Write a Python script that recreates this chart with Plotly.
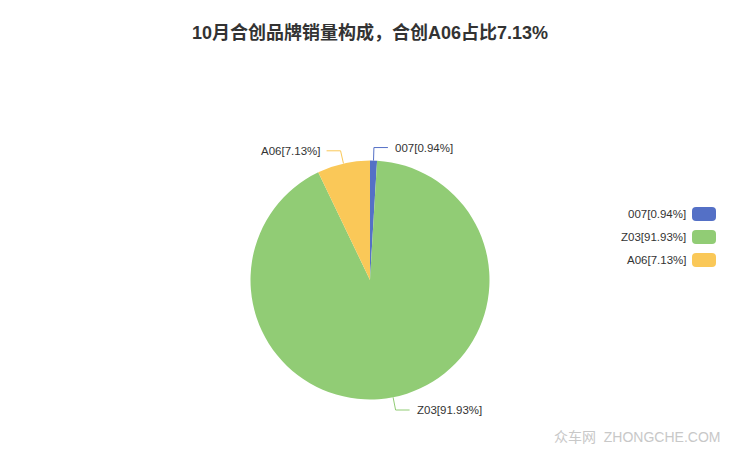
import math

import plotly.graph_objects as go

W, H = 740, 455

title = "10月合创品牌销量构成，合创A06占比7.13%"
brands = ["007", "Z03", "A06"]
shares = [0.94, 91.93, 7.13]
colors = ["#5470c6", "#91cc75", "#fac858"]

labels = [f"{b}[{s:.2f}%]" for b, s in zip(brands, shares)]

# pie geometry in pixels
cx, cy, R = 370, 280, 119.5


def px(x):
    return x / W


def py(y):
    return 1 - y / H


fig = go.Figure(
    go.Pie(
        labels=labels,
        values=shares,
        sort=False,
        direction="clockwise",
        rotation=0,
        marker=dict(colors=colors, line=dict(width=0)),
        textinfo="none",
        hoverinfo="label",
        showlegend=False,
        domain=dict(x=[px(cx - R), px(cx + R)], y=[py(cy + R), py(cy - R)]),
    )
)

shapes = []
annotations = []

# leader lines + outside labels, echarts style
total = sum(shares)
acc = 0.0
for lab, s, c in zip(labels, shares, colors):
    mid = (acc + s / 2) / total * 2 * math.pi
    acc += s
    sx, sy = math.sin(mid), -math.cos(mid)
    x0, y0 = cx + R * sx, cy + R * sy
    x1, y1 = cx + (R + 13) * sx, cy + (R + 13) * sy
    side = 1 if sx >= 0 else -1
    x2 = x1 + 14 * side
    shapes.append(
        dict(
            type="path",
            xref="paper",
            yref="paper",
            path=f"M {px(x0)} {py(y0)} L {px(x1)} {py(y1)} L {px(x2)} {py(y1)}",
            line=dict(color=c, width=1),
        )
    )
    annotations.append(
        dict(
            x=px(x2 + 5 * side),
            y=py(y1),
            xref="paper",
            yref="paper",
            text=lab,
            showarrow=False,
            xanchor="left" if side > 0 else "right",
            yanchor="middle",
            font=dict(size=11.5, color="#333"),
        )
    )

# legend on the right: text then rounded swatch
for i, (lab, c) in enumerate(zip(labels, colors)):
    yc = 214 + i * 23
    x0, x1, y0, y1, r = 692, 716, yc - 7, yc + 7, 4
    path = (
        f"M {px(x0 + r)} {py(y0)} L {px(x1 - r)} {py(y0)} "
        f"Q {px(x1)} {py(y0)} {px(x1)} {py(y0 + r)} L {px(x1)} {py(y1 - r)} "
        f"Q {px(x1)} {py(y1)} {px(x1 - r)} {py(y1)} L {px(x0 + r)} {py(y1)} "
        f"Q {px(x0)} {py(y1)} {px(x0)} {py(y1 - r)} L {px(x0)} {py(y0 + r)} "
        f"Q {px(x0)} {py(y0)} {px(x0 + r)} {py(y0)} Z"
    )
    shapes.append(
        dict(type="path", xref="paper", yref="paper", path=path,
             fillcolor=c, line=dict(width=0))
    )
    annotations.append(
        dict(
            x=px(688), y=py(yc), xref="paper", yref="paper",
            text=lab, showarrow=False, xanchor="right", yanchor="middle",
            font=dict(size=11.5, color="#333"),
        )
    )

# watermark
annotations.append(
    dict(
        x=px(722), y=py(437), xref="paper", yref="paper",
        text="众车网  ZHONGCHE.COM", showarrow=False,
        xanchor="right", yanchor="middle",
        font=dict(size=14, color="#c8c8c8"),
    )
)

fig.update_layout(
    width=W,
    height=H,
    margin=dict(l=0, r=0, t=0, b=0),
    paper_bgcolor="white",
    font=dict(family="Liberation Sans, Noto Sans CJK SC, sans-serif"),
    title=dict(
        text=f"<b>{title}</b>",
        x=0.5,
        xanchor="center",
        y=py(33),
        yanchor="middle",
        font=dict(size=18, color="#333", family="Liberation Sans, Noto Sans CJK SC, sans-serif"),
    ),
    shapes=shapes,
    annotations=annotations,
)

# page body has a default 8px margin; drop it so the figure sits at 0,0
fig.write_html(
    "out.html",
    config={"displayModeBar": False},
    post_script="document.body.style.margin='0';",
)
